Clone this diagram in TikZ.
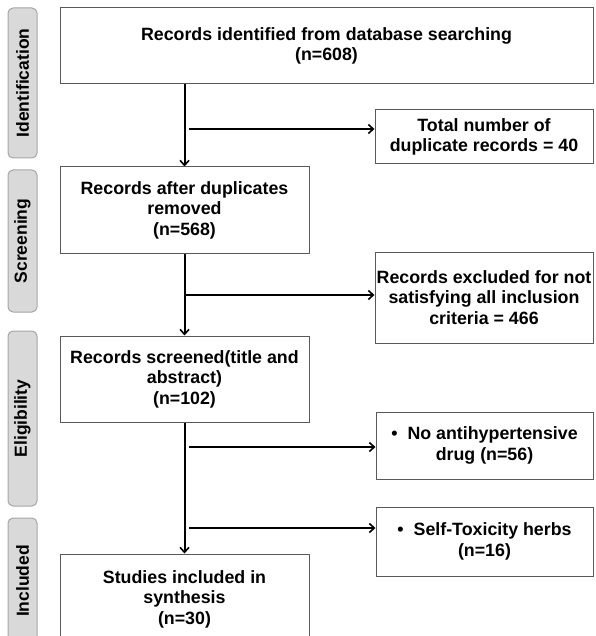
\documentclass[tikz,border=0pt]{standalone}
\usepackage{fontspec}
\setmainfont{Liberation Sans}
\usetikzlibrary{arrows.meta}
\tikzset{
  box/.style={draw=black!65, line width=1pt, fill=white, align=center, inner sep=0pt,
    font=\bfseries\fontsize{17.8}{20.5}\selectfont},
  sidebox/.style={draw=black!35, fill=black!15, line width=1pt, rounded corners=5pt,
    rotate=90, inner sep=0pt, minimum height=29, font=\bfseries\fontsize{17.5}{20}\selectfont},
  conn/.style={line width=2pt, black},
  arr/.style={conn, -{Straight Barb[length=5pt,width=9pt,line width=1.6pt]}},
}
\begin{document}
\begin{tikzpicture}[x=1pt,y=-1pt]
\useasboundingbox (0,0) rectangle (595,636);
\clip (0,0) rectangle (595,636);
% side labels
\node[sidebox, minimum width=150] (sid) at (22.5,83) {Identification};
\node[sidebox, minimum width=142] (ssc) at (22.5,241) {Screening};
\node[sidebox, minimum width=175] (sel) at (22.5,418.5) {Eligibility};
\node[sidebox, minimum width=126] (sin) at (22.5,581) {Included};
% main boxes
\node[box, minimum width=533, minimum height=76] (b1) at (326.5,46)
  {Records identified from database searching\\(n=608)};
\node[box, minimum width=249, minimum height=86] (b2) at (184.5,210)
  {Records after duplicates\\removed\\(n=568)};
\node[box, minimum width=249, minimum height=86] (b3) at (184.5,379)
  {Records screened(title and\\abstract)\\(n=102)};
\node[box, minimum width=249, minimum height=90] (b4) at (184.5,599)
  {Studies included in\\synthesis\\(n=30)};
% side boxes
\node[box, minimum width=218, minimum height=54] (r1) at (484,137)
  {Total number of\\duplicate records = 40};
\node[box, minimum width=218, minimum height=91] (r2) at (484,297.5)
  {Records excluded for not\\satisfying all inclusion\\criteria = 466};
\node[box, minimum width=217, minimum height=67] (r3) at (484.5,445.5)
  {\raisebox{0pt}{\textbullet}\hspace{10pt}No antihypertensive\\drug (n=56)};
\node[box, minimum width=217, minimum height=69] (r4) at (484.5,541.5)
  {\textbullet\hspace{10pt}Self-Toxicity herbs\\(n=16)};
% vertical connectors
\draw[arr] (b1.south -| b2.north) -- (b2.north);
\draw[arr] (b2.south) -- (b3.north);
\draw[arr] (b3.south) -- (b4.north);
% horizontal connectors
\coordinate (h1) at (189,129);
\coordinate (h2) at (185,295);
\coordinate (h3) at (189,447);
\coordinate (h4) at (189,528);
\draw[arr] (h1) -- (h1 -| r1.west);
\draw[arr] (h2) -- (h2 -| r2.west);
\draw[arr] (h3) -- (h3 -| r3.west);
\draw[arr] (h4) -- (h4 -| r4.west);
\end{tikzpicture}
\end{document}
